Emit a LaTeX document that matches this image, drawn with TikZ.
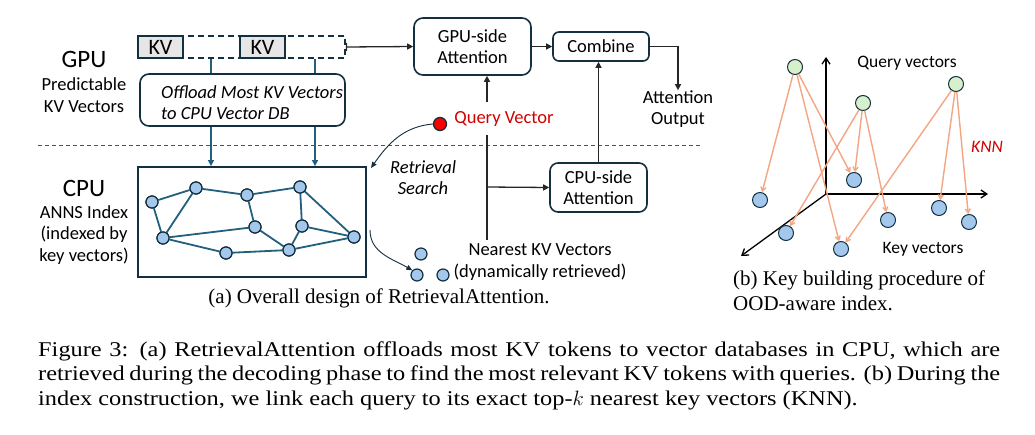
\documentclass[tikz,border=0pt]{standalone}
\usepackage{fontspec}
\setmainfont{Liberation Serif}
\newfontfamily\diagfont{Carlito}
\newfontfamily\capfont[FakeStretch=1.16]{Liberation Serif}
\usetikzlibrary{arrows.meta,positioning,calc}
\definecolor{boxline}{HTML}{12303F}
\definecolor{tealc}{HTML}{22607E}
\definecolor{nodefill}{HTML}{A4C8EC}
\definecolor{greenfill}{HTML}{D6F0CC}
\definecolor{salmon}{HTML}{F4A582}
\definecolor{kvfill}{HTML}{E6E6E6}
\definecolor{redtxt}{HTML}{D00000}
\newcommand{\fbig}{\diagfont\fontsize{25}{28}\selectfont}
\newcommand{\fmid}{\diagfont\fontsize{18.5}{21.5}\selectfont}
\newcommand{\fcap}{\fontsize{21}{24.5}\selectfont}
\newcommand{\fmain}{\capfont\fontsize{21}{24.5}\selectfont}
\begin{document}
\begin{tikzpicture}[x=1pt,y=-1pt,
  rbox/.style={draw=boxline,line width=1.6pt,rounded corners=7pt,fill=white,align=center,font=\fmid,inner sep=0pt},
  kvbox/.style={draw=boxline,line width=1.6pt,fill=kvfill,minimum width=45pt,minimum height=22pt,inner sep=0pt,font=\diagfont\fontsize{22}{24}\selectfont},
  arr/.style={draw=black!85,line width=1.3pt,-{Triangle[length=6pt,width=6pt]}},
  tarr/.style={draw=tealc,line width=1.6pt,-{Triangle[length=6pt,width=6pt]}},
  tline/.style={draw=tealc,line width=1.8pt},
  gnode/.style={circle,draw=boxline,line width=1.2pt,fill=nodefill,minimum size=12pt,inner sep=0pt},
  qnode/.style={circle,draw=boxline,line width=1pt,fill=greenfill,minimum size=15pt,inner sep=0pt},
  knode/.style={circle,draw=boxline,line width=1pt,fill=nodefill,minimum size=15pt,inner sep=0pt},
  karr/.style={draw=salmon,line width=1.4pt,-{Straight Barb[length=4pt,width=5pt]}},
  axarr/.style={draw=black,line width=1.3pt,-{Straight Barb[length=6pt,width=8pt]}},
  lbl/.style={align=center,font=\fmid,inner sep=0pt},
  curvarr/.style={draw=boxline,line width=0.9pt,-{Triangle[length=6pt,width=5pt]}}
]
\useasboundingbox (0,0) rectangle (1035,434);

% ---------- panel (a) ----------
\node[font=\fbig,inner sep=0pt] (gputxt) at (84,59) {GPU};
\node[lbl] (predtxt) at (84,95) {Predictable\\KV Vectors};
\node[font=\fbig,inner sep=0pt] (cputxt) at (84,188) {CPU};
\node[lbl] (annstxt) at (84,235) {ANNS Index\\(indexed by\\key vectors)};

\coordinate (sepL) at (38,145);
\coordinate (sepR) at (700,145);
\draw[draw=tealc,line width=1pt,dash pattern=on 4pt off 3pt] (sepL) -- (sepR);

% KV bar
\node[draw=boxline,line width=1.6pt,dash pattern=on 6pt off 4pt,minimum width=207pt,minimum height=22pt,inner sep=0pt] (kvbar) at (241.5,47) {};
\coordinate (c1) at (211,0);
\coordinate (c2) at (315,0);

% CPU box
\node[draw=boxline,line width=1.8pt,minimum width=228pt,minimum height=110pt,inner sep=0pt] (cpubox) at (252,222) {};

\draw[tarr] (kvbar.south -| c1) -- (cpubox.north -| c1);
\draw[tarr] (kvbar.south -| c2) -- (cpubox.north -| c2);

\node[kvbox] (kv1) at (160.5,47) {KV};
\node[kvbox] (kv2) at (262.5,47) {KV};

\node[rbox,minimum width=205pt,minimum height=52pt,rounded corners=9pt] (offload) at (242.5,100) {};
\node[font=\diagfont\itshape\fontsize{18.5}{21}\selectfont,align=left,inner sep=0pt,anchor=west] (offtxt) at (161,103) {Offload Most KV Vectors\\to CPU Vector DB};

% graph
\node[gnode] (n1) at (152,202) {};
\node[gnode] (n2) at (196,188) {};
\node[gnode] (n3) at (247,195) {};
\node[gnode] (n4) at (300,187) {};
\node[gnode] (n5) at (163,238) {};
\node[gnode] (n6) at (255,227) {};
\node[gnode] (n7) at (302,226) {};
\node[gnode] (n8) at (226,253) {};
\node[gnode] (n9) at (289,250) {};
\node[gnode] (n10) at (354,237) {};
\foreach \a/\b in {n1/n2,n1/n5,n2/n5,n2/n3,n3/n4,n3/n6,n4/n7,n4/n10,n5/n6,n5/n8,n6/n9,n7/n9,n7/n10,n8/n9,n9/n10}
  \draw[tline] (\a) -- (\b);
\foreach \n in {n1,n2,n3,n4,n5,n6,n7,n8,n9,n10}
  \node[gnode] at (\n) {};

% attention boxes
\node[rbox,minimum width=117pt,minimum height=57pt,rounded corners=9pt] (gpuatt) at (472.5,46.5) {GPU-side\\Attention};
\node[rbox,minimum width=96pt,minimum height=29pt,rounded corners=6pt] (combine) at (601,46.5) {Combine};
\node[rbox,minimum width=97pt,minimum height=49pt,rounded corners=8pt] (cpuatt) at (598.5,187.5) {CPU-side\\Attention};
\node[lbl] (attout) at (678,109) {Attention\\Output};

\draw[line width=1.3pt,draw=black!85,{Bar[width=8pt,line width=1.3pt]}-{Triangle[length=6pt,width=6pt]}] (kvbar.east) -- (gpuatt.west);
\draw[arr] (gpuatt.east) -- (combine.west);
\draw[arr] (combine.east) -| (attout.north);
\draw[arr] (cpuatt.north) -- (cpuatt.north |- combine.south);

% query vector
\node[circle,draw=boxline,line width=1.3pt,fill=red,minimum size=13pt,inner sep=0pt] (qdot) at (440,124) {};
\node[font=\fmid,text=redtxt,inner sep=0pt] (qtxt) at (504,119) {Query Vector};
\coordinate (qa) at (487,102);
\draw[arr] (qa) -- (qa |- gpuatt.south);
\coordinate (vt) at (487,135);
\coordinate (vb) at (487,240);
\coordinate (vm) at (487,187);
\draw[line width=1.3pt,draw=black!85] (vt) -- (vb);
\draw[arr] (vm) -- (cpuatt.west);

\node[font=\diagfont\itshape\fontsize{18.5}{21}\selectfont,align=center,inner sep=0pt] (retr) at (423,178) {Retrieval\\Search};
\coordinate (retrend) at (371,168);
\draw[curvarr] (qdot.west) to[out=185,in=55] (retrend);

\node[gnode] (r1) at (421,254) {};
\node[gnode] (r2) at (417,275) {};
\node[gnode] (r3) at (443,275) {};
\coordinate (cs) at (370,230);
\draw[curvarr] (cs) to[out=-90,in=150] (r2.north west);
\node[lbl] (nearest) at (540,262) {Nearest KV Vectors\\(dynamically retrieved)};

\node[font=\fcap,anchor=base,inner sep=0pt] (capa) at (379,303) {(a) Overall design of RetrievalAttention.};

% ---------- panel (b) ----------
\coordinate (org) at (826,194);
\coordinate (axu) at (826,57);
\coordinate (axr) at (988,194);
\coordinate (axd) at (741,256);
\draw[axarr] (org) -- (axu);
\draw[axarr] (org) -- (axr);
\draw[axarr] (org) -- (axd);

\node[qnode] (q1) at (795,67) {};
\node[qnode] (q2) at (863,103) {};
\node[qnode] (q3) at (956,84) {};
\node[knode] (k1) at (760,200) {};
\node[knode] (k2) at (854,180) {};
\node[knode] (k3) at (786,233) {};
\node[knode] (k4) at (841,249) {};
\node[knode] (k5) at (888,220) {};
\node[knode] (k6) at (939,208) {};
\node[knode] (k7) at (969,222) {};
\foreach \a/\b in {q1/k1,q1/k2,q1/k4,q2/k3,q2/k2,q2/k5,q3/k4,q3/k6,q3/k7}
  \draw[karr] (\a) -- (\b);

\node[font=\diagfont\fontsize{17.5}{20}\selectfont,inner sep=0pt] (qvtxt) at (907,63) {Query vectors};
\node[font=\diagfont\itshape\fontsize{17.5}{20}\selectfont,text=redtxt,inner sep=0pt] (knn) at (987,147) {KNN};
\node[font=\diagfont\fontsize{17.5}{20}\selectfont,inner sep=0pt] (kvtxt) at (923,249) {Key vectors};

\node[font=\fcap,align=left,anchor=north west,inner sep=0pt] (capb) at (733,271) {(b) Key building procedure of\\OOD-aware index.};

% ---------- main caption ----------
\node[font=\fmain,anchor=base west,inner sep=0pt] (cl1) at (38,356) {\makebox[962pt][s]{Figure 3: (a) RetrievalAttention offloads most KV tokens to vector databases in CPU, which are}};
\node[font=\fmain,anchor=base west,inner sep=0pt] (cl2) at (38,380.5) {\makebox[962pt][s]{retrieved during the decoding phase to find the most relevant KV tokens with queries. (b) During the}};
\node[font=\fmain,anchor=base west,inner sep=0pt] (cl3) at (38,405) {index construction, we link each query to its exact top-$k$ nearest key vectors (KNN).};
\end{tikzpicture}
\end{document}
